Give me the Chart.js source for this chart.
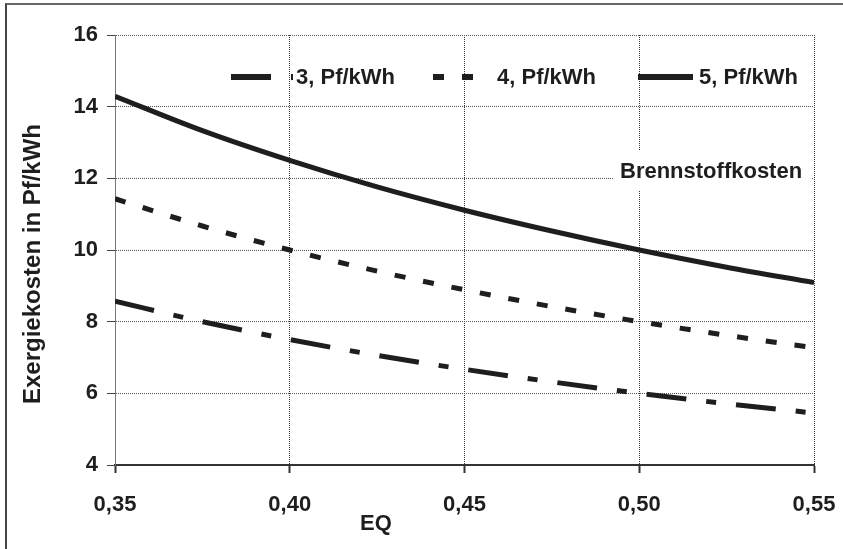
<!DOCTYPE html>
<html>
<head>
<meta charset="utf-8">
<script src="https://cdn.jsdelivr.net/npm/chart.js@4/dist/chart.umd.min.js"></script>
<style>
  html, body { margin: 0; padding: 0; background: #fff; }
  #wrap { position: relative; width: 843px; height: 549px; }
  #frame {
    position: absolute; left: 5px; top: 3px; right: 0; bottom: 0;
    border-left: 2px solid #444; border-top: 2px solid #666;
    pointer-events: none;
  }
</style>
</head>
<body>
<div id="wrap">
  <canvas id="exergy-chart" width="843" height="549"></canvas>
  <div id="frame"></div>
</div>
<script>
// EQ values along the x axis
const eqValues = [0.35, 0.375, 0.40, 0.425, 0.45, 0.475, 0.50, 0.525, 0.55];

// Exergiekosten (Pf/kWh) for each fuel price
const cost3 = [8.57, 8.0, 7.5, 7.06, 6.67, 6.32, 6.0, 5.71, 5.45];
const cost4 = [11.43, 10.67, 10.0, 9.41, 8.89, 8.42, 8.0, 7.62, 7.27];
const cost5 = [14.29, 13.33, 12.5, 11.76, 11.11, 10.53, 10.0, 9.52, 9.09];

const seriesLabels = ["3, Pf/kWh", "4, Pf/kWh", "5, Pf/kWh"];
const xTickValues = [0.35, 0.40, 0.45, 0.50, 0.55];
const xTickLabels = ["0,35", "0,40", "0,45", "0,50", "0,55"];
const yTitle = "Exergiekosten in Pf/kWh";
const xTitle = "EQ";
const noteText = "Brennstoffkosten";

const FONT = "'Liberation Sans', Arial, Helvetica, sans-serif";
const INK = "#1e1e1e";

const toPoints = (ys) => ys.map((y, i) => ({ x: eqValues[i], y: y }));

// legend drawn inside the plot, samples use the dataset dash patterns
const innerLegend = {
  id: "innerLegend",
  afterDatasetsDraw(chart) {
    const ctx = chart.ctx;
    const items = [
      { x0: 231, x1: 293, tx: 296 },
      { x0: 433, x1: 476, tx: 497 },
      { x0: 638, x1: 693, tx: 699 },
    ];
    const y = 77;
    ctx.save();
    items.forEach((it, i) => {
      const ds = chart.data.datasets[i];
      ctx.beginPath();
      ctx.setLineDash(ds.borderDash || []);
      ctx.lineWidth = 6;
      ctx.strokeStyle = ds.borderColor;
      ctx.moveTo(it.x0, y);
      ctx.lineTo(it.x1, y);
      ctx.stroke();
      ctx.setLineDash([]);
      ctx.fillStyle = INK;
      ctx.font = "bold 22px " + FONT;
      ctx.textAlign = "left";
      ctx.textBaseline = "middle";
      ctx.fillText(ds.label, it.tx, y + 1);
    });
    ctx.restore();
  },
};

// white label box over the grid
const fuelNote = {
  id: "fuelNote",
  beforeDatasetsDraw(chart) {
    const ctx = chart.ctx;
    ctx.save();
    ctx.fillStyle = "#fff";
    ctx.fillRect(614, 150, 197, 41);
    ctx.fillStyle = INK;
    ctx.font = "bold 22px " + FONT;
    ctx.textAlign = "left";
    ctx.textBaseline = "middle";
    ctx.fillText(noteText, 620, 172);
    ctx.restore();
  },
};

const axisTitles = {
  id: "axisTitles",
  afterDraw(chart) {
    const ctx = chart.ctx;
    ctx.save();
    ctx.fillStyle = INK;
    ctx.textAlign = "center";
    ctx.textBaseline = "middle";
    ctx.font = "bold 22px " + FONT;
    ctx.fillText(xTitle, 376, 524);
    ctx.translate(33, 264);
    ctx.rotate(-Math.PI / 2);
    ctx.font = "bold 24px " + FONT;
    ctx.fillText(yTitle, 0, 0);
    ctx.restore();
  },
};

function makeDataset(label, values, dash) {
  return {
    label: label,
    data: toPoints(values),
    borderColor: INK,
    borderWidth: 5,
    borderDash: dash,
    borderCapStyle: "butt",
    pointRadius: 0,
    fill: false,
    cubicInterpolationMode: "monotone",
  };
}

const ctx = document.getElementById("exergy-chart").getContext("2d");
new Chart(ctx, {
  type: "line",
  data: {
    datasets: [
      makeDataset(seriesLabels[0], cost3, [40, 20, 10, 20]),
      makeDataset(seriesLabels[1], cost4, [11, 18]),
      makeDataset(seriesLabels[2], cost5, []),
    ],
  },
  options: {
    responsive: false,
    animation: false,
    devicePixelRatio: 1,
    layout: { padding: { left: 0, right: 29, top: 35, bottom: 0 } },
    plugins: {
      legend: { display: false },
      tooltip: { enabled: false },
    },
    scales: {
      x: {
        type: "linear",
        min: 0.35,
        max: 0.55,
        afterFit: (scale) => {
          scale.height = 84;
          // let layout padding alone decide the plot edges
          scale.paddingLeft = 0;
          scale.paddingRight = 0;
        },
        afterBuildTicks: (scale) => {
          scale.ticks = xTickValues.map((v) => ({ value: v }));
        },
        ticks: {
          callback: (value) => {
            const i = xTickValues.findIndex((v) => Math.abs(v - value) < 1e-6);
            return i >= 0 ? xTickLabels[i] : "";
          },
          color: INK,
          font: { family: FONT, size: 22, weight: "bold" },
          padding: 19,
          maxRotation: 0,
        },
        grid: {
          color: "#333",
          lineWidth: 1,
          tickLength: 8,
          tickColor: "#333",
          tickWidth: 2,
        },
        border: { display: true, color: "#333", width: 2, dash: [1, 1] },
      },
      y: {
        min: 4,
        max: 16,
        afterFit: (scale) => {
          scale.width = 115;
          scale.paddingTop = 0;
          scale.paddingBottom = 0;
        },
        ticks: {
          stepSize: 2,
          color: INK,
          font: { family: FONT, size: 22, weight: "bold" },
          padding: 9,
        },
        grid: {
          color: "#555",
          lineWidth: 1,
          tickLength: 8,
          tickColor: "#444",
          tickWidth: 1,
        },
        border: { display: true, color: "#777", width: 1, dash: [1, 1] },
      },
    },
  },
  plugins: [fuelNote, innerLegend, axisTitles],
});
</script>
</body>
</html>
